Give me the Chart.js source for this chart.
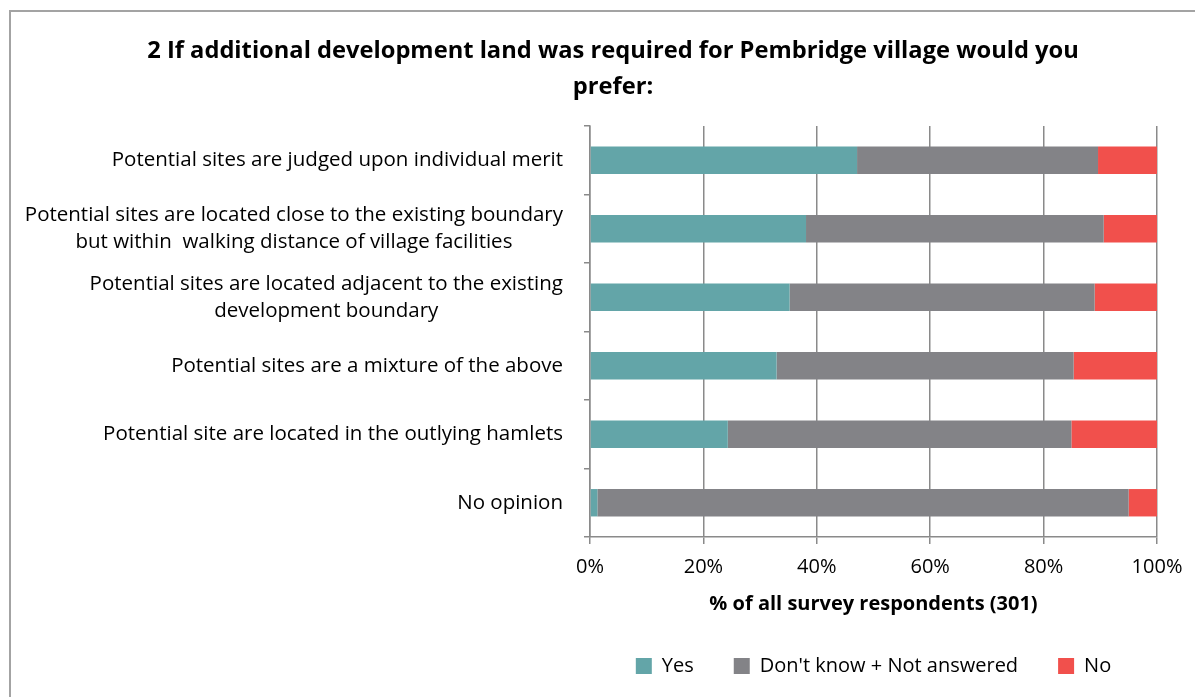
<!DOCTYPE html>
<html lang="en">
<head>
  <meta charset="UTF-8">
  <title>Pembridge survey - Q2 development land</title>
  <script src="https://cdn.jsdelivr.net/npm/chart.js"></script>
  <style>
    html, body { margin: 0; padding: 0; background: #fff; overflow: hidden; }
    #frame { position: absolute; left: 9px; top: 10px; width: 1300px; height: 800px; border: 2px solid #a3a3a3; }
    #wrap { position: absolute; left: 0; top: 0; }
  </style>
</head>
<body>
  <div id="frame"></div>
  <div id="wrap"><canvas id="chart" width="1226" height="697"></canvas></div>

  <script>
    // categories (each one split into the lines shown on the axis)
    const categories = [
      ["Potential sites are judged upon individual merit"],
      ["Potential sites are located close to the existing boundary", "but within  walking distance of village facilities"],
      ["Potential sites are located adjacent to the existing", "development boundary"],
      ["Potential sites are a mixture of the above"],
      ["Potential site are located in the outlying hamlets"],
      ["No opinion"]
    ];
    // % of all respondents
    const yesValues = [47.1, 38.1, 35.2, 32.9, 24.3, 1.3];
    const dontKnowValues = [42.5, 52.5, 53.8, 52.4, 60.6, 93.7];
    const noValues = [10.4, 9.4, 11.0, 14.7, 15.1, 5.0];
    const seriesNames = ["Yes", "Don't know + Not answered", "No"];
    const xTicks = [0, 20, 40, 60, 80, 100];

    const FONT = "'Open Sans'";
    const gridGray = "#8a8a8a";
    const labelRight = 563;
    const labelLineHeight = 27;

    // draws the category labels: block right aligned, lines centred inside block
    const yLabelPlugin = {
      id: "yLabels",
      afterDraw(chart) {
        const { ctx } = chart;
        const y = chart.scales.y;
        ctx.save();
        ctx.font = "20.5px " + FONT;
        ctx.fillStyle = "#000";
        ctx.textAlign = "center";
        ctx.textBaseline = "middle";
        categories.forEach((lines, i) => {
          const cy = y.getPixelForValue(i);
          const w = Math.max(...lines.map(l => ctx.measureText(l).width));
          const cx = labelRight - w / 2;
          lines.forEach((line, j) => {
            ctx.fillText(line, cx, cy + (j - (lines.length - 1) / 2) * labelLineHeight);
          });
        });
        ctx.restore();
      }
    };

    Chart.defaults.font.family = FONT;
    Chart.defaults.color = "#000";

    new Chart(document.getElementById("chart"), {
      type: "bar",
      data: {
        labels: categories,
        datasets: [
          { label: seriesNames[0], data: yesValues, backgroundColor: "#63a5a8" },
          { label: seriesNames[1], data: dontKnowValues, backgroundColor: "#838387" },
          { label: seriesNames[2], data: noValues, backgroundColor: "#f1504c" }
        ]
      },
      options: {
        indexAxis: "y",
        responsive: false,
        animation: false,
        categoryPercentage: 0.5,
        barPercentage: 0.8,
        layout: { padding: { left: 0, right: 0, top: 0, bottom: 11 } },
        scales: {
          x: {
            stacked: true,
            min: 0,
            max: 100,
            afterBuildTicks(s) { s.ticks = xTicks.map(v => ({ value: v })); },
            ticks: { callback: v => v + "%", font: { size: 20 }, padding: 11 },
            grid: { color: gridGray, lineWidth: 1.5, tickLength: 7 },
            border: { display: true, color: gridGray, width: 1.5 },
            title: {
              display: true,
              text: "% of all survey respondents (301)",
              font: { size: 20, weight: "bold" },
              padding: { top: 0, bottom: 0 }
            },
            afterFit(s) { s.height = 79; }
          },
          y: {
            stacked: true,
            ticks: { display: false },
            grid: { drawOnChartArea: false, offset: true, tickLength: 6, color: gridGray, lineWidth: 1.5 },
            border: { display: true, color: gridGray, width: 1.5 },
            afterFit(s) { s.width = 590; }
          },
          // empty box on the right so the plot ends where the original does
          pad: {
            type: "linear",
            position: "right",
            display: true,
            ticks: { display: false },
            grid: { display: false },
            border: { display: false },
            afterFit(s) { s.width = 69; }
          }
        },
        plugins: {
          title: {
            display: true,
            text: ["2 If additional development land was required for Pembridge village would you", "prefer:"],
            font: { size: 23.7, weight: "bold", lineHeight: 36 / 23.7 },
            padding: { top: 33, bottom: 21 }
          },
          legend: {
            position: "bottom",
            fullSize: false,
            labels: { boxWidth: 16, boxHeight: 16, padding: 40, font: { size: 20 } }
          },
          tooltip: { enabled: false }
        }
      },
      plugins: [yLabelPlugin]
    });
  </script>
</body>
</html>
